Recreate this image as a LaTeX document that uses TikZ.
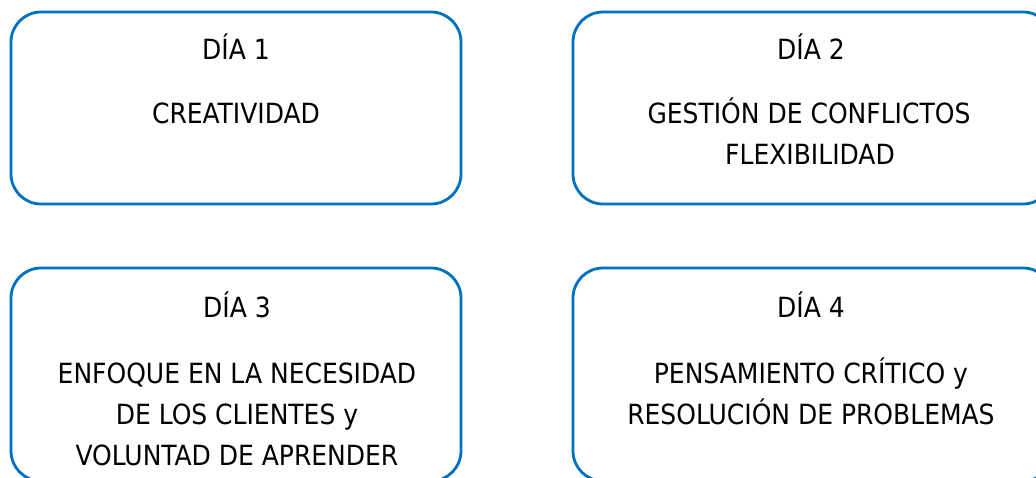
\documentclass[tikz,border=0pt]{standalone}
\usepackage{fontspec}
\setmainfont{DejaVu Sans Condensed}
\definecolor{boxblue}{RGB}{0,112,192}
\tikzset{
  daybox/.style={draw=boxblue, line width=2.8pt, rounded corners=30pt, rectangle, inner sep=0pt, outer sep=0pt},
  txt/.style={anchor=base, inner sep=0pt, font=\fontsize{27.8}{33}\selectfont, text=black}
}
\begin{document}
\begin{tikzpicture}[x=1pt,y=-1pt]
\useasboundingbox (0,0) rectangle (1036,477);
\node[daybox, minimum width=450pt, minimum height=192pt] (box1) at (236,108) {};
\node[daybox, minimum width=480pt, minimum height=192pt] (box2) at (813,108) {};
\node[daybox, minimum width=450pt, minimum height=213pt] (box3) at (236,374.5) {};
\node[daybox, minimum width=480pt, minimum height=213pt] (box4) at (813,374.5) {};
% box 1
\node[txt] (d1) at (236,59) {DÍA 1};
\node[txt] (t1a) at (236,123) {CREATIVIDAD};
% box 2
\node[txt] (d2) at (811,59) {DÍA 2};
\node[txt] (t2a) at (809,123) {GESTIÓN DE CONFLICTOS};
\node[txt] (t2b) at (810,164) {FLEXIBILIDAD};
% box 3
\node[txt] (d3) at (237,317) {DÍA 3};
\node[txt] (t3a) at (237,383) {ENFOQUE EN LA NECESIDAD};
\node[txt] (t3b) at (237,424) {DE LOS CLIENTES y};
\node[txt] (t3c) at (237,465) {VOLUNTAD DE APRENDER};
% box 4
\node[txt] (d4) at (811,317) {DÍA 4};
\node[txt] (t4a) at (811,383) {PENSAMIENTO CRÍTICO y};
\node[txt] (t4b) at (811,424) {RESOLUCIÓN DE PROBLEMAS};
\end{tikzpicture}
\end{document}
